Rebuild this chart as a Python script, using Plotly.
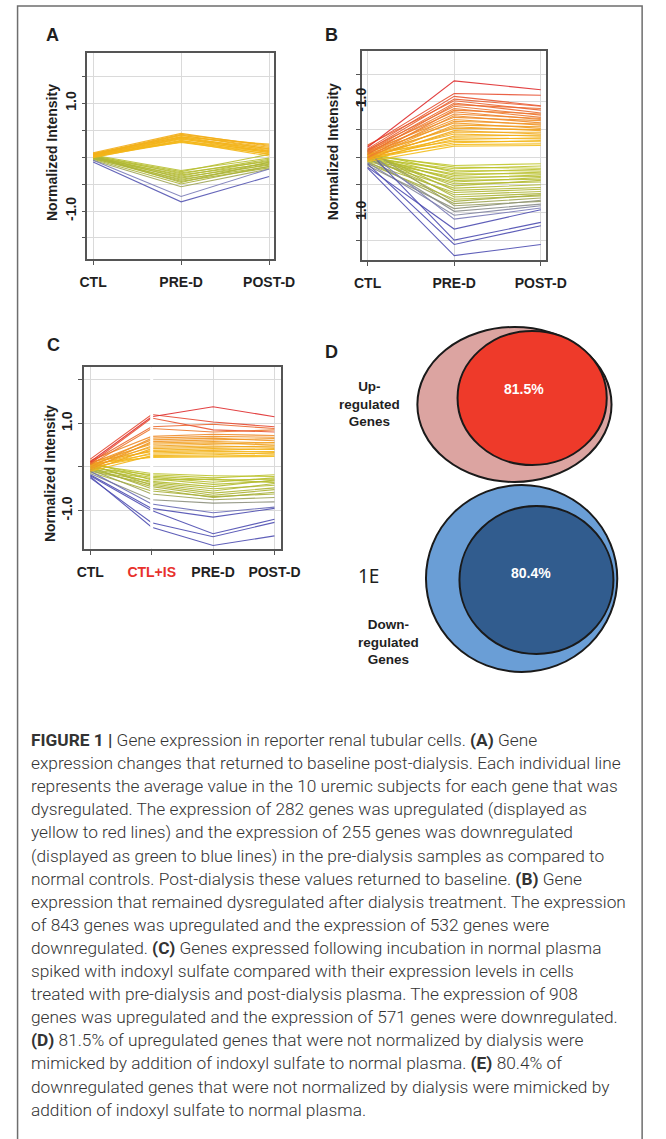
import plotly.graph_objects as go
from plotly.colors import sample_colorscale

W, H = 666, 1139


def px(x):
    return x / W


def py(y):
    return 1 - y / H


# ---------------- data ----------------
CATS_AB = ["CTL", "PRE-D", "POST-D"]
CATS_C = ["CTL", "CTL+IS", "PRE-D", "POST-D"]

# Panel A : genes that returned to baseline (CTL, PRE-D, POST-D)
A_UP = [
    [0.08, 0.44, 0.20], [0.06, 0.42, 0.22], [0.05, 0.41, 0.15], [0.04, 0.40, 0.18],
    [0.03, 0.38, 0.12], [0.07, 0.37, 0.24], [0.02, 0.36, 0.10], [0.00, 0.35, 0.16],
    [0.05, 0.34, 0.08], [0.01, 0.33, 0.14], [-0.01, 0.31, 0.05], [0.03, 0.30, 0.11],
    [0.02, 0.29, 0.02], [0.00, 0.28, 0.09], [0.04, 0.27, 0.06],
]
A_DOWN = [
    [0.04, -0.25, -0.02], [0.02, -0.27, 0.05], [0.00, -0.29, -0.08], [0.03, -0.31, -0.04],
    [-0.01, -0.33, -0.12], [0.01, -0.35, -0.06], [-0.02, -0.37, -0.15], [0.02, -0.39, -0.10],
    [-0.03, -0.41, -0.18], [0.00, -0.43, -0.13], [-0.02, -0.45, -0.20], [0.01, -0.47, -0.09],
    [-0.04, -0.50, -0.17], [-0.06, -0.55, -0.22], [-0.06, -0.73, -0.22], [-0.09, -0.83, -0.36],
]

# Panel B : genes that remained dysregulated (axis runs from -1.0 at top to 1.0 at bottom)
B_UP = [
    [-0.18, -1.38, -1.22], [-0.20, -1.15, -1.12], [-0.15, -1.10, -0.93], [-0.12, -1.05, -0.92],
    [-0.22, -1.02, -0.85], [-0.10, -0.98, -0.80], [-0.05, -0.95, -0.88], [-0.14, -0.92, -0.76],
    [-0.08, -0.88, -0.72], [0.00, -0.85, -0.78], [-0.12, -0.82, -0.68], [-0.06, -0.78, -0.70],
    [0.02, -0.75, -0.62], [-0.10, -0.72, -0.66], [-0.04, -0.68, -0.58], [0.00, -0.65, -0.60],
    [-0.08, -0.62, -0.52], [0.05, -0.58, -0.55], [-0.02, -0.55, -0.48], [-0.06, -0.52, -0.50],
    [0.03, -0.48, -0.42], [0.00, -0.45, -0.45], [-0.04, -0.42, -0.38], [0.06, -0.38, -0.40],
    [-0.02, -0.35, -0.33], [0.02, -0.32, -0.35], [-0.05, -0.29, -0.28], [0.04, -0.26, -0.30],
    [0.00, -0.23, -0.24], [0.08, -0.20, -0.21],
]
B_DOWN = [
    [-0.02, 0.15, 0.12], [-0.05, 0.18, 0.20], [0.02, 0.21, 0.16], [0.00, 0.24, 0.25],
    [-0.08, 0.27, 0.22], [0.04, 0.30, 0.30], [-0.03, 0.33, 0.27], [0.06, 0.36, 0.35],
    [0.00, 0.39, 0.32], [-0.04, 0.42, 0.40], [0.08, 0.45, 0.37], [0.02, 0.48, 0.45],
    [-0.06, 0.52, 0.42], [0.05, 0.56, 0.50], [-0.10, 0.60, 0.55], [0.10, 0.64, 0.58],
    [0.00, 0.68, 0.62], [-0.12, 0.72, 0.66], [0.12, 0.76, 0.70], [-0.05, 0.80, 0.68],
    [0.08, 0.84, 0.74], [-0.15, 0.88, 0.80], [0.15, 0.93, 0.78], [0.00, 0.98, 0.85],
    [0.10, 1.05, 0.88], [-0.10, 1.12, 0.92], [0.18, 1.30, 0.95], [-0.12, 1.50, 1.18],
    [0.12, 1.58, 1.24], [0.20, 1.78, 1.58],
]

# Panel C : CTL, CTL+IS, PRE-D, POST-D
C_UP = [
    [0.12, 1.15, 1.38, 1.15], [0.18, 1.20, 1.03, 0.92], [0.08, 1.12, 0.85, 0.80],
    [0.10, 0.92, 0.98, 0.88], [0.05, 0.88, 0.80, 0.85], [0.15, 0.70, 0.75, 0.72],
    [0.00, 0.66, 0.70, 0.68], [0.08, 0.62, 0.66, 0.60], [-0.05, 0.58, 0.62, 0.65],
    [0.04, 0.55, 0.58, 0.55], [0.10, 0.52, 0.55, 0.50], [-0.02, 0.48, 0.52, 0.56],
    [0.06, 0.45, 0.48, 0.45], [-0.08, 0.42, 0.45, 0.48], [0.02, 0.38, 0.42, 0.40],
    [0.12, 0.35, 0.38, 0.42], [-0.04, 0.32, 0.35, 0.35], [0.05, 0.29, 0.32, 0.30],
    [-0.10, 0.26, 0.28, 0.33], [0.00, 0.24, 0.25, 0.27], [0.08, 0.22, 0.23, 0.24],
]
C_DOWN = [
    [0.05, -0.15, -0.20, -0.22], [-0.02, -0.18, -0.25, -0.18], [0.08, -0.21, -0.30, -0.28],
    [0.00, -0.24, -0.35, -0.25], [-0.05, -0.27, -0.40, -0.32], [0.10, -0.30, -0.28, -0.36],
    [-0.08, -0.33, -0.45, -0.30], [0.03, -0.36, -0.50, -0.42], [-0.10, -0.39, -0.55, -0.38],
    [0.06, -0.42, -0.60, -0.48], [-0.04, -0.45, -0.65, -0.52], [0.00, -0.50, -0.70, -0.58],
    [-0.12, -0.55, -0.68, -0.62], [-0.06, -0.62, -0.75, -0.70], [-0.15, -0.75, -0.83, -0.80],
    [-0.10, -0.85, -1.05, -0.92], [-0.18, -0.95, -1.15, -0.95], [-0.20, -1.00, -1.53, -1.20],
    [-0.25, -1.28, -1.60, -1.27], [-0.22, -1.38, -1.80, -1.58],
]

VENN_PCT = ["81.5%", "80.4%"]
VENN_GROUPS = ["Up-<br>regulated<br>Genes", "Down-<br>regulated<br>Genes"]

CAPTION_LINES = [
    "<b>FIGURE 1 |</b> Gene expression in reporter renal tubular cells. <b>(A)</b> Gene",
    "expression changes that returned to baseline post-dialysis. Each individual line",
    "represents the average value in the 10 uremic subjects for each gene that was",
    "dysregulated. The expression of 282 genes was upregulated (displayed as",
    "yellow to red lines) and the expression of 255 genes was downregulated",
    "(displayed as green to blue lines) in the pre-dialysis samples as compared to",
    "normal controls. Post-dialysis these values returned to baseline. <b>(B)</b> Gene",
    "expression that remained dysregulated after dialysis treatment. The expression",
    "of 843 genes was upregulated and the expression of 532 genes were",
    "downregulated. <b>(C)</b> Genes expressed following incubation in normal plasma",
    "spiked with indoxyl sulfate compared with their expression levels in cells",
    "treated with pre-dialysis and post-dialysis plasma. The expression of 908",
    "genes was upregulated and the expression of 571 genes were downregulated.",
    "<b>(D)</b> 81.5% of upregulated genes that were not normalized by dialysis were",
    "mimicked by addition of indoxyl sulfate to normal plasma. <b>(E)</b> 80.4% of",
    "downregulated genes that were not normalized by dialysis were mimicked by",
    "addition of indoxyl sulfate to normal plasma.",
]

# ---------------- styling ----------------
UP_SCALE = [[0, "#F7CB1E"], [0.3, "#F3B018"], [0.55, "#EF8A2C"], [0.8, "#E95532"], [1, "#DF2A2E"]]
DOWN_SCALE = [[0, "#C6CC2A"], [0.6, "#ABB33A"], [0.72, "#8F937E"], [0.86, "#7A7CB8"], [1, "#4E4EB2"]]

PANEL_FONT = "Liberation Sans, Arial, sans-serif"
TXT = "#1f1f1f"


def line_color(vals, scale, vmax):
    m = max(abs(v) for v in vals[1:])
    t = min(m / vmax, 1.0)
    return sample_colorscale(scale, [t])[0]


fig = go.Figure()


def add_group(rows, cats, scale, vmax, xa, ya):
    for r in sorted(rows, key=lambda v: max(abs(a) for a in v[1:])):
        fig.add_trace(go.Scatter(
            x=list(range(len(cats))), y=r, mode="lines",
            line=dict(color=line_color(r, scale, vmax), width=1.1),
            opacity=0.9, xaxis=xa, yaxis=ya, showlegend=False, hoverinfo="skip"))


add_group(A_DOWN, CATS_AB, DOWN_SCALE, 0.85, "x", "y")
add_group(A_UP, CATS_AB, UP_SCALE, 1.4, "x", "y")
add_group(B_DOWN, CATS_AB, DOWN_SCALE, 1.3, "x2", "y2")
add_group(B_UP, CATS_AB, UP_SCALE, 1.4, "x2", "y2")
add_group(C_DOWN, CATS_C, DOWN_SCALE, 1.15, "x3", "y3")
add_group(C_UP, CATS_C, UP_SCALE, 1.4, "x3", "y3")

axis_common = dict(
    showline=True, mirror=True, linecolor="#555555", linewidth=1.5,
    showgrid=True, gridcolor="#DADADA", gridwidth=1, zeroline=False,
    ticks="outside", ticklen=4, tickcolor="#555555",
    tickfont=dict(family=PANEL_FONT, size=14, color=TXT, weight="bold"),
    fixedrange=True,
)

ctext = [c if c != "CTL+IS" else "<span style='color:#E8312B'>CTL+IS</span>" for c in CATS_C]

fig.update_layout(
    width=W, height=H, margin=dict(l=0, r=0, t=0, b=0),
    paper_bgcolor="white", plot_bgcolor="white", showlegend=False,
    xaxis=dict(axis_common, domain=[px(83), px(278)], range=[-0.065, 2.054],
               tickvals=[0, 1, 2], ticktext=CATS_AB, anchor="y", ticklabelstandoff=5),
    yaxis=dict(axis_common, domain=[py(259), py(53)], range=[-1.89, 1.93],
               tickvals=[-1.5, -1, -0.5, 0, 0.5, 1, 1.5],
               ticktext=["", "-1.0", "", "", "", "1.0", ""], tickangle=-90, anchor="x"),
    xaxis2=dict(axis_common, domain=[px(370), px(562)], range=[-0.066, 2.055],
                tickvals=[0, 1, 2], ticktext=CATS_AB, anchor="y2", ticklabelstandoff=5),
    yaxis2=dict(axis_common, domain=[py(260), py(51)], range=[1.86, -1.92],
                tickvals=[-1.5, -1, -0.5, 0, 0.5, 1, 1.5],
                ticktext=["", "-1.0", "", "", "", "1.0", ""], tickangle=-90, anchor="x2",
                ticklabelstandoff=-15),
    xaxis3=dict(axis_common, domain=[px(79), px(285)], range=[-0.11, 3.1],
                tickvals=[0, 1, 2, 3], ticktext=ctext, anchor="y3", ticklabelstandoff=5),
    yaxis3=dict(axis_common, domain=[py(549), py(367)], range=[-1.88, 2.29],
                tickvals=[-1, 0, 1, 2], ticktext=["-1.0", "", "1.0", ""],
                tickangle=-90, anchor="x3"),
    xaxis4=dict(domain=[px(320), px(660)], range=[320, 660], visible=False,
                anchor="y4", fixedrange=True),
    yaxis4=dict(domain=[py(690), py(320)], range=[690, 320], visible=False,
                anchor="x4", fixedrange=True),
)

shapes = []
# outer frame
shapes.append(dict(type="rect", xref="paper", yref="paper", x0=px(10), x1=px(663),
                   y0=py(6), y1=-0.02, line=dict(color="#6E6E6E", width=1.5),
                   fillcolor="rgba(0,0,0,0)", layer="below"))
# white break at CTL+IS
shapes.append(dict(type="line", xref="x3", yref="y3 domain", x0=1, x1=1, y0=0.003, y1=0.997,
                   line=dict(color="white", width=3), layer="above"))
# Venn diagrams
shapes += [
    dict(type="circle", xref="x4", yref="y4", x0=428, x1=631, y0=327, y1=482,
         fillcolor="#DCA4A1", line=dict(color="#1a1a1a", width=2)),
    dict(type="circle", xref="x4", yref="y4", x0=470, x1=626, y0=331, y1=465,
         fillcolor="#EE3A2A", line=dict(color="#1a1a1a", width=2)),
    dict(type="circle", xref="x4", yref="y4", x0=437, x1=637, y0=485, y1=672,
         fillcolor="#6A9ED6", line=dict(color="#1a1a1a", width=2)),
    dict(type="circle", xref="x4", yref="y4", x0=472, x1=633, y0=506, y1=654,
         fillcolor="#315C8E", line=dict(color="#1a1a1a", width=2)),
]
fig.update_layout(shapes=shapes)

ann = []
bold = dict(family=PANEL_FONT, color=TXT, weight="bold")
C = dict(xanchor="center", yanchor="middle", showarrow=False)
for letter, x, y in [("A", 47, 35), ("B", 338, 35), ("C", 48, 345)]:
    ann.append(dict(C, text=letter, xref="paper", yref="paper", x=px(x), y=py(y),
                    font=dict(bold, size=18)))
for x, y in [(46, 152), (340, 152), (44, 474)]:
    ann.append(dict(C, text="Normalized Intensity", xref="paper", yref="paper", x=px(x), y=py(y),
                    textangle=-90, font=dict(bold, size=14)))
ann.append(dict(C, text="D", xref="x4", yref="y4", x=338, y=352, font=dict(bold, size=18)))
ann.append(dict(C, text=VENN_PCT[0], xref="x4", yref="y4", x=540, y=389,
                font=dict(family=PANEL_FONT, size=14, color="white", weight="bold")))
ann.append(dict(C, text=VENN_PCT[1], xref="x4", yref="y4", x=547, y=573,
                font=dict(family=PANEL_FONT, size=14, color="white", weight="bold")))
ann.append(dict(C, text=VENN_GROUPS[0], xref="x4", yref="y4", x=378, y=404,
                font=dict(bold, size=13.5)))
ann.append(dict(C, text=VENN_GROUPS[1], xref="x4", yref="y4", x=398, y=642,
                font=dict(bold, size=13.5)))
ann.append(dict(C, text="1E", xref="x4", yref="y4", x=377, y=576,
                font=dict(family="Noto Sans, sans-serif", size=19, color=TXT)))

y0, dy = 740, 23.1
for i, t in enumerate(CAPTION_LINES):
    ann.append(dict(text=t, xref="paper", yref="paper", x=px(22), y=py(y0 + i * dy),
                    xanchor="left", yanchor="middle", showarrow=False, align="left",
                    font=dict(family="Roboto, sans-serif", size=17.3, color="#333333",
                              weight=300)))
fig.update_layout(annotations=ann)

fig.write_html("out.html", config={"displayModeBar": False},
               post_script="document.body.style.margin='0';document.body.style.overflow='hidden';")
